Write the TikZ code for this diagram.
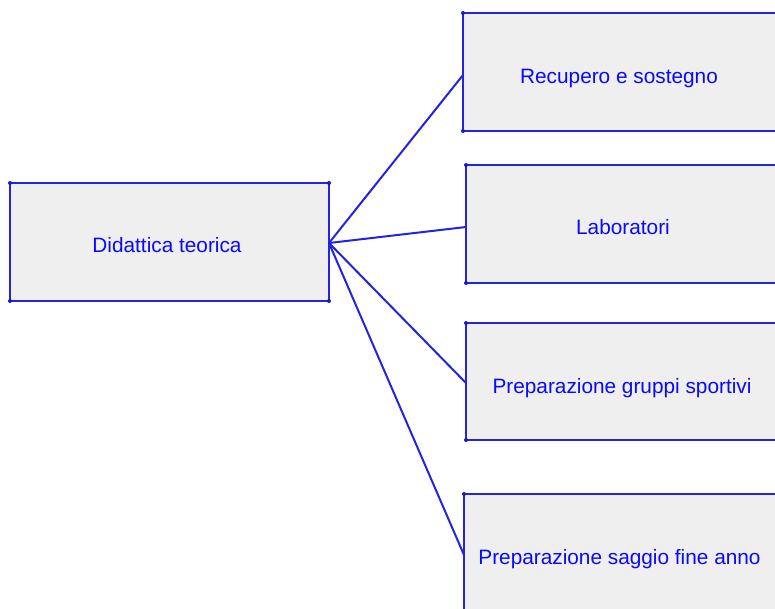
\documentclass[tikz,border=0pt]{standalone}
\usepackage{fontspec}
\setmainfont{Liberation Sans}
\definecolor{edge}{RGB}{35,35,225}
\definecolor{txt}{RGB}{10,10,250}
\definecolor{boxfill}{RGB}{239,239,239}
\begin{document}
\begin{tikzpicture}[x=1pt,y=-1pt,
  topic/.style={draw=edge,fill=boxfill,line width=2.2pt},
  lbl/.style={text=txt,font=\fontsize{20.8}{24}\selectfont,inner sep=0pt,anchor=base},
  link/.style={draw=edge,line width=2pt},
  dot/.style={fill=edge!80!black,circle,inner sep=0pt,minimum size=4pt}]
\useasboundingbox (0,0) rectangle (775,608);
\clip (0,0) rectangle (775,608);
% boxes
\draw[topic] (10,183) rectangle (329,301);
\draw[topic] (463,13) rectangle (782,131);
\draw[topic] (466,165) rectangle (785,283);
\draw[topic] (466,323) rectangle (785,440);
\draw[topic] (464,494) rectangle (783,612);
% corner dots
\foreach \p in {(10,183),(329,183),(10,301),(329,301),(463,13),(463,131),(466,165),(466,283),(466,323),(466,440),(464,494)}
  \node[dot] at \p {};
% anchor coordinates
\coordinate (src) at (329,243);
\coordinate (t1) at (463,75);
\coordinate (t2) at (466,227);
\coordinate (t3) at (466,383);
\coordinate (t4) at (464,555);
\draw[link] (src) -- (t1);
\draw[link] (src) -- (t2);
\draw[link] (src) -- (t3);
\draw[link] (src) -- (t4);
% labels
\node[lbl] (l0) at (167,252) {Didattica teorica};
\node[lbl] (l1) at (619,83) {Recupero e sostegno};
\node[lbl] (l2) at (623,234) {Laboratori};
\node[lbl] (l3) at (622,393) {Preparazione gruppi sportivi};
\node[lbl] (l4) at (619.5,564) {Preparazione saggio fine anno};
\end{tikzpicture}
\end{document}
